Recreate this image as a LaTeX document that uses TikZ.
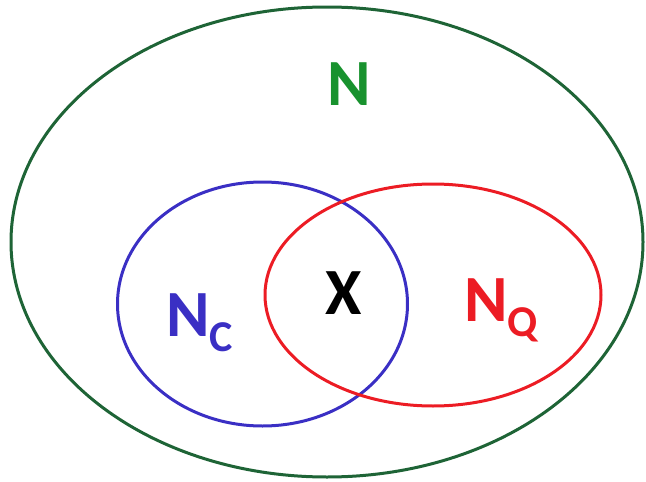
\documentclass[tikz,border=0pt]{standalone}
\usepackage{fontspec}
\setmainfont{Carlito}
\usetikzlibrary{positioning}
\definecolor{grn}{HTML}{1E6436}
\definecolor{lgrn}{HTML}{18922E}
\definecolor{blu}{HTML}{3A2FC4}
\definecolor{rd}{HTML}{EC1C24}

\begin{document}
\begin{tikzpicture}[x=1pt,y=-1pt,
  set/.style={line width=3pt},
  lbl/.style={font=\fontsize{66}{66}\selectfont\bfseries,inner sep=0pt}]
\useasboundingbox (0,0) rectangle (646,482);
% sets
\draw[set,grn] (327,242) ellipse [x radius=316,y radius=235];
\draw[set,blu] (262.5,304) ellipse [x radius=145,y radius=122];
\draw[set,rd] (433,295) ellipse [x radius=168,y radius=111];
% labels
\node[lbl,text=lgrn] (n) at (349,84) {N};
\node[lbl,text=blu,anchor=base west] (nc) at (166,336) {N\raisebox{-15pt}{\fontsize{44}{44}\selectfont C}};
\node[lbl,text=black] (x) at (344,293) {X};
\node[lbl,text=rd,anchor=base west] (nq) at (464,321) {N\raisebox{-15pt}{\fontsize{44}{44}\selectfont Q}};
\end{tikzpicture}
\end{document}
